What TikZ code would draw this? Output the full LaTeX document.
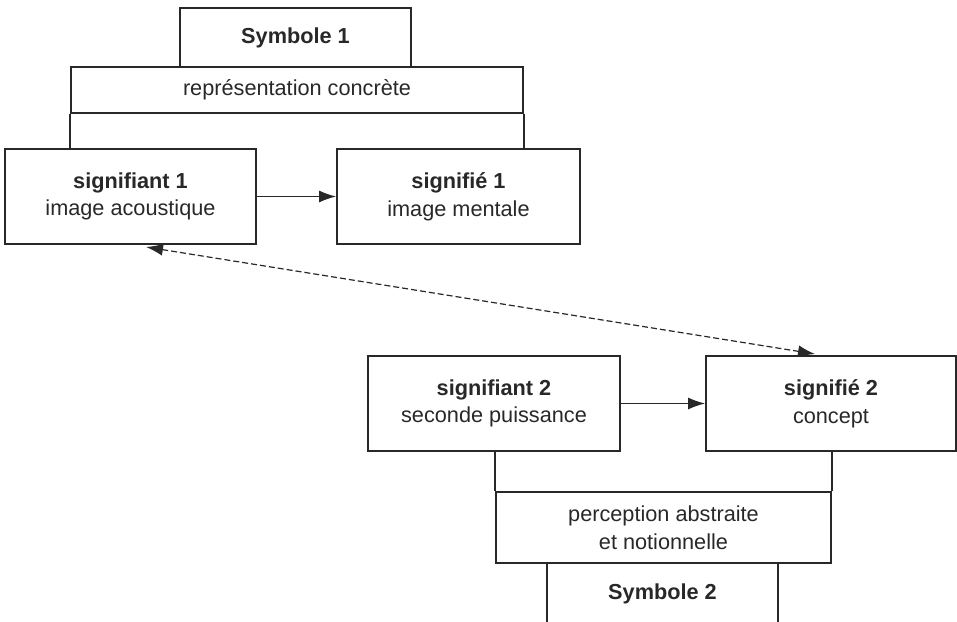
\documentclass[tikz,border=0pt]{standalone}
\usepackage{fontspec}
\setmainfont{Liberation Sans}
\usepackage{tikz}
\usetikzlibrary{arrows.meta, positioning}
\definecolor{trait}{RGB}{40,40,40}

\begin{document}
\begin{tikzpicture}[x=0.5pt,y=-0.5pt,
    boite/.style={draw=trait,line width=0.85pt,rectangle,inner sep=0pt,align=center,
        text=trait,font=\fontsize{10.85}{13.8}\selectfont},
    fleche/.style={-{Latex[length=8.5pt,width=6pt]},draw=trait,line width=0.7pt},
    pointille/.style={{Latex[length=8.5pt,width=6pt]}-{Latex[length=8.5pt,width=6pt]},
        draw=trait,line width=0.6pt,dash pattern=on 3pt off 1.5pt}]
    \useasboundingbox (0,0) rectangle (957,621);
    \clip (0,0) rectangle (957,621);

    % Premier niveau
    \node[boite,minimum width=115.5pt,minimum height=29.5pt] (sym1) at (295.5,37.5) {\textbf{Symbole 1}};
    \node[boite,minimum width=226pt,minimum height=23pt] (repr) at (297,90) {représentation concrète};
    \node[boite,minimum width=125.5pt,minimum height=47.5pt] (sa1) at (130.5,196.5) {\textbf{signifiant 1}\\image acoustique};
    \node[boite,minimum width=121.5pt,minimum height=47.5pt] (se1) at (458.5,196.5) {\textbf{signifié 1}\\image mentale};

    \draw[trait,line width=0.85pt] (repr.south west) -- (repr.south west |- sa1.north);
    \draw[trait,line width=0.85pt] (repr.south east) -- (repr.south east |- se1.north);
    \draw[fleche] (sa1.east) -- (se1.west);

    % Second niveau
    \node[boite,minimum width=126pt,minimum height=47.5pt] (sa2) at (494,403.5) {\textbf{signifiant 2}\\seconde puissance};
    \node[boite,minimum width=125pt,minimum height=47.5pt] (se2) at (831,403.5) {\textbf{signifié 2}\\concept};
    \node[boite,minimum width=167.5pt,minimum height=35.5pt] (perc) at (663.5,527.5) {perception abstraite\\et notionnelle};
    \node[boite,minimum width=115.5pt,minimum height=30.5pt] (sym2) at (662.5,593.5) {\textbf{Symbole 2}};

    \draw[trait,line width=0.85pt] (perc.north west) -- (perc.north west |- sa2.south);
    \draw[trait,line width=0.85pt] (perc.north east) -- (perc.north east |- se2.south);
    \draw[fleche] (sa2.east) -- (se2.west);

    % Lien entre les deux signes
    \coordinate (d1) at (146,247);
    \coordinate (d2) at (815,354);
    \draw[pointille] (d1) -- (d2);
\end{tikzpicture}
\end{document}
